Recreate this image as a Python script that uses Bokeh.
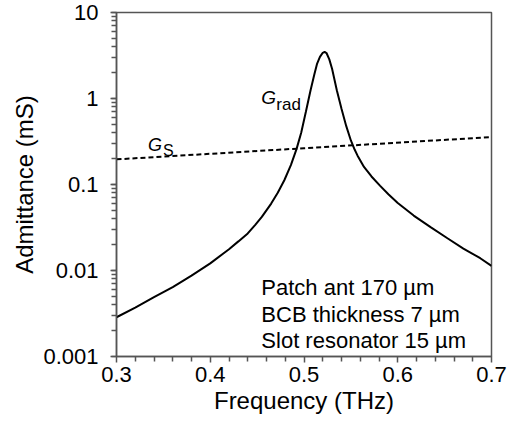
from bokeh.plotting import figure
from bokeh.models import Label, LogTicker, FixedTicker, Range1d
from bokeh.embed import file_html
from bokeh.resources import INLINE

# --- data ---
freq_rad = [0.300, 0.320, 0.340, 0.360, 0.380, 0.400, 0.420, 0.430, 0.440, 0.448,
            0.455, 0.465, 0.472, 0.479, 0.486, 0.492, 0.497, 0.502, 0.507, 0.511,
            0.514, 0.517, 0.520, 0.522, 0.524, 0.527, 0.530, 0.535, 0.540, 0.545,
            0.550, 0.554, 0.557, 0.564, 0.572, 0.581, 0.590, 0.600, 0.617, 0.635,
            0.653, 0.670, 0.688, 0.700]
g_rad = [0.00286, 0.0037, 0.0049, 0.0064, 0.0087, 0.0121, 0.0177, 0.0218, 0.0270, 0.0340,
         0.042, 0.060, 0.080, 0.112, 0.168, 0.258, 0.40, 0.70, 1.25, 1.90,
         2.55, 3.05, 3.40, 3.48, 3.38, 2.85, 2.20, 1.25, 0.76, 0.48,
         0.325, 0.255, 0.218, 0.160, 0.124, 0.097, 0.077, 0.061, 0.0435, 0.032,
         0.0237, 0.0180, 0.0139, 0.0113]

freq_s = [0.3, 0.5, 0.7]
g_s = [0.196, 0.264, 0.356]

x_ticks = [0.3, 0.4, 0.5, 0.6, 0.7]
x_minor_ticks = [0.32, 0.34, 0.36, 0.38, 0.42, 0.44, 0.46, 0.48,
                 0.52, 0.54, 0.56, 0.58, 0.62, 0.64, 0.66, 0.68]
annot_lines = ["Patch ant 170 µm", "BCB thickness 7 µm", "Slot resonator 15 µm"]
annot_y = [0.0063, 0.0031, 0.00155]

FONT = "Liberation Sans"
AX = "#555555"

p = figure(width=507, height=421, y_axis_type="log",
           x_range=Range1d(0.3, 0.7), y_range=Range1d(0.001, 10),
           output_backend="svg", toolbar_location=None,
           min_border_left=116, min_border_right=16,
           min_border_top=12, min_border_bottom=65)

p.grid.visible = False
p.outline_line_color = AX
p.outline_line_width = 1.5
p.background_fill_color = "white"
p.border_fill_color = "white"

p.xaxis.ticker = FixedTicker(ticks=x_ticks, minor_ticks=x_minor_ticks)
p.xaxis.major_label_overrides = {t: f"{t:.1f}" for t in x_ticks}
p.xaxis.axis_label = "Frequency (THz)"
p.yaxis.ticker = LogTicker(num_minor_ticks=10)
p.yaxis.axis_label = "Admittance (mS)"

for ax in (p.xaxis[0], p.yaxis[0]):
    ax.axis_line_color = AX
    ax.axis_line_width = 1.5
    ax.major_tick_line_color = AX
    ax.minor_tick_line_color = AX
    ax.major_tick_line_width = 1.5
    ax.minor_tick_line_width = 1.5
    ax.major_tick_in = 0
    ax.minor_tick_in = 0
    ax.major_tick_out = 6
    ax.minor_tick_out = 5
    ax.major_label_text_font = FONT
    ax.major_label_text_font_size = "22px"
    ax.major_label_text_color = "black"
    ax.axis_label_text_font = FONT
    ax.axis_label_text_font_size = "24px"
    ax.axis_label_text_font_style = "normal"
    ax.axis_label_text_color = "black"

p.xaxis.major_label_standoff = 4
p.xaxis.axis_label_standoff = 2
p.yaxis.major_label_standoff = 12
p.yaxis.axis_label_standoff = 2

p.yaxis.major_label_overrides = {0.001: "0.001", 0.01: "0.01", 0.1: "0.1", 1: "1", 10: "10"}

p.line(freq_rad, g_rad, line_color="black", line_width=2)
p.line(freq_s, g_s, line_color="black", line_width=2, line_dash="5 3")

# curve labels
p.add_layout(Label(x=0.4543, y=1.02, text="G", text_font=FONT, text_font_size="19px",
                   text_font_style="italic", text_baseline="alphabetic", text_color="black"))
p.add_layout(Label(x=0.4705, y=0.86, text="rad", text_font=FONT, text_font_size="17px",
                   text_baseline="alphabetic", text_color="black"))
p.add_layout(Label(x=0.3335, y=0.286, text="G", text_font=FONT, text_font_size="18px",
                   text_font_style="italic", text_baseline="alphabetic", text_color="black"))
p.add_layout(Label(x=0.3495, y=0.251, text="S", text_font=FONT, text_font_size="16px",
                   text_baseline="alphabetic", text_color="black"))

for t, yv in zip(annot_lines, annot_y):
    p.add_layout(Label(x=0.4545, y=yv, text=t, text_font=FONT, text_font_size="22px",
                       text_baseline="alphabetic", text_color="black"))

open("out.html", "w").write(file_html(p, INLINE))
